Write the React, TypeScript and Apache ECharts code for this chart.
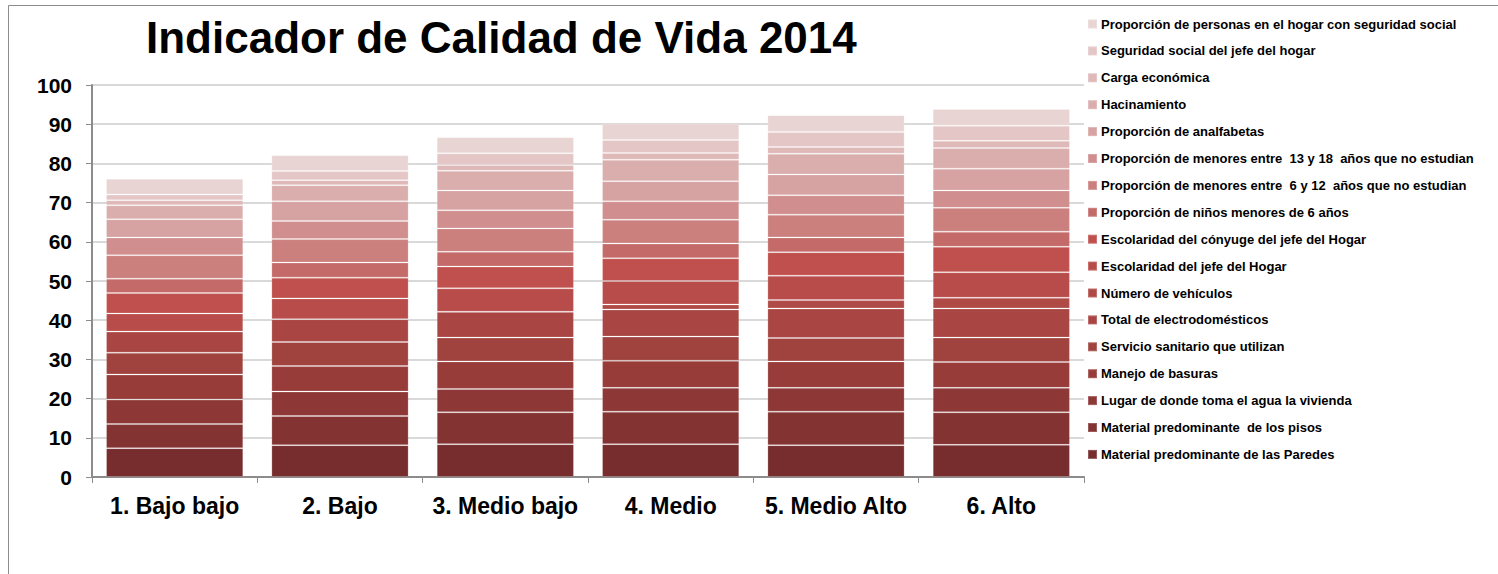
import React, { useEffect, useRef } from "react";
import * as echarts from "echarts";

const categories = ["1. Bajo bajo", "2. Bajo", "3. Medio bajo", "4. Medio", "5. Medio Alto", "6. Alto"];

// Stack order: bottom to top
const seriesNames = [
  "Material predominante de las Paredes",
  "Material predominante  de los pisos",
  "Lugar de donde toma el agua la vivienda",
  "Manejo de basuras",
  "Servicio sanitario que utilizan",
  "Total de electrodomésticos",
  "Número de vehículos",
  "Escolaridad del jefe del Hogar",
  "Escolaridad del cónyuge del jefe del Hogar",
  "Proporción de niños menores de 6 años",
  "Proporción de menores entre  6 y 12  años que no estudian",
  "Proporción de menores entre  13 y 18  años que no estudian",
  "Proporción de analfabetas",
  "Hacinamiento",
  "Carga económica",
  "Seguridad social del jefe del hogar",
  "Proporción de personas en el hogar con seguridad social",
];

const paredes = [7.35, 8.12, 8.38, 8.38, 8.12, 8.21];
const pisos = [6.15, 7.44, 8.12, 8.29, 8.55, 8.29];
const agua = [6.24, 6.24, 5.98, 6.07, 6.07, 6.24];
const basuras = [6.41, 6.5, 7.01, 6.92, 6.75, 6.58];
const sanitario = [5.56, 6.15, 6.07, 6.15, 5.98, 6.24];
const electrodomesticos = [5.38, 5.81, 6.58, 6.92, 7.52, 7.44];
const vehiculos = [0, 0, 0, 1.28, 2.14, 2.74];
const escolaridadJefe = [4.62, 5.3, 5.98, 5.98, 6.24, 6.5];
const escolaridadConyuge = [5.21, 5.3, 5.56, 5.81, 5.98, 6.5];
const ninosMenores6 = [3.68, 3.85, 3.76, 3.76, 3.76, 3.85];
const menores6a12 = [5.98, 5.98, 5.98, 6.07, 5.81, 6.07];
const menores13a18 = [4.53, 4.62, 4.62, 4.7, 4.96, 4.44];
const analfabetas = [4.62, 5.04, 5.04, 5.13, 5.3, 5.56];
const hacinamiento = [3.59, 4.1, 5.04, 5.47, 5.3, 5.3];
const cargaEconomica = [1.28, 1.28, 1.45, 1.71, 1.71, 1.79];
const seguridadJefe = [1.45, 2.31, 2.99, 3.33, 3.85, 3.85];
const seguridadPersonas = [4.02, 4.02, 4.1, 4.19, 4.27, 4.27];

const seriesValues = [
  paredes, pisos, agua, basuras, sanitario, electrodomesticos, vehiculos,
  escolaridadJefe, escolaridadConyuge, ninosMenores6, menores6a12, menores13a18,
  analfabetas, hacinamiento, cargaEconomica, seguridadJefe, seguridadPersonas,
];

const seriesColors = [
  "#772D2E", "#833331", "#8D3836", "#983C3A", "#A0433F", "#A94644", "#AF4A47",
  "#B84C4A", "#C0504D", "#C46A68", "#CB807E", "#D08F8E", "#D6A2A2", "#DBAEAE",
  "#DFB8B8", "#E5C6C6", "#E9D4D4",
];

const yTicks = [0, 10, 20, 30, 40, 50, 60, 70, 80, 90, 100];

const FONT = "'Liberation Sans', Arial, sans-serif";

export default function App() {
  const ref = useRef<HTMLDivElement>(null);
  useEffect(() => {
    if (!ref.current) return;
    const chart = echarts.init(ref.current, null, { renderer: "svg" });
    chart.setOption({
      animation: false,
      backgroundColor: "#ffffff",
      textStyle: { fontFamily: FONT },
      title: {
        text: "Indicador de Calidad de Vida 2014",
        left: 141,
        top: 10,
        textStyle: { fontFamily: FONT, fontSize: 44, fontWeight: "bold", color: "#000" },
      },
      graphic: [
        {
          type: "rect",
          shape: { x: 8.5, y: 5.5, width: 1600, height: 700 },
          style: { fill: "none", stroke: "#8c8c8c", lineWidth: 1 },
          silent: true,
        },
      ],
      legend: {
        orient: "vertical",
        left: 1082,
        top: 11,
        itemWidth: 9,
        itemHeight: 9,
        itemGap: 10.9,
        icon: "rect",
        data: [...seriesNames].reverse(),
        textStyle: { fontFamily: FONT, fontSize: 13, fontWeight: "bold", color: "#000", lineHeight: 16, padding: [0, 0, 0, -1] },
      },
      grid: { left: 92, right: 414, top: 85, bottom: 97, containLabel: false },
      xAxis: {
        type: "category",
        data: categories,
        axisLine: { lineStyle: { color: "#8c8c8c", width: 2 } },
        axisTick: { show: true, length: 6, alignWithLabel: false, lineStyle: { color: "#8c8c8c" } },
        axisLabel: { interval: 0, hideOverlap: false, fontFamily: FONT, fontSize: 23, fontWeight: "bold", color: "#000", margin: 17 },
      },
      yAxis: {
        type: "value",
        min: yTicks[0],
        max: yTicks[yTicks.length - 1],
        interval: 10,
        axisLine: { show: true, lineStyle: { color: "#8c8c8c", width: 2 } },
        axisTick: { show: true, length: 6, lineStyle: { color: "#8c8c8c" } },
        splitLine: { lineStyle: { color: "#d9d9d9", width: 2 } },
        axisLabel: { fontFamily: FONT, fontSize: 21, fontWeight: "bold", color: "#000", margin: 20 },
      },
      series: seriesNames.map((name, i) => ({
        name,
        type: "bar",
        stack: "total",
        barCategoryGap: "17%",
        data: seriesValues[i],
        itemStyle: { color: seriesColors[i], borderColor: "rgba(255,255,255,0.2)", borderWidth: 1 },
      })),
    });
    return () => chart.dispose();
  }, []);
  return (
    <div
      ref={ref}
      style={{ position: "absolute", left: 0, top: 0, width: 1498, height: 574 }}
    />
  );
}
